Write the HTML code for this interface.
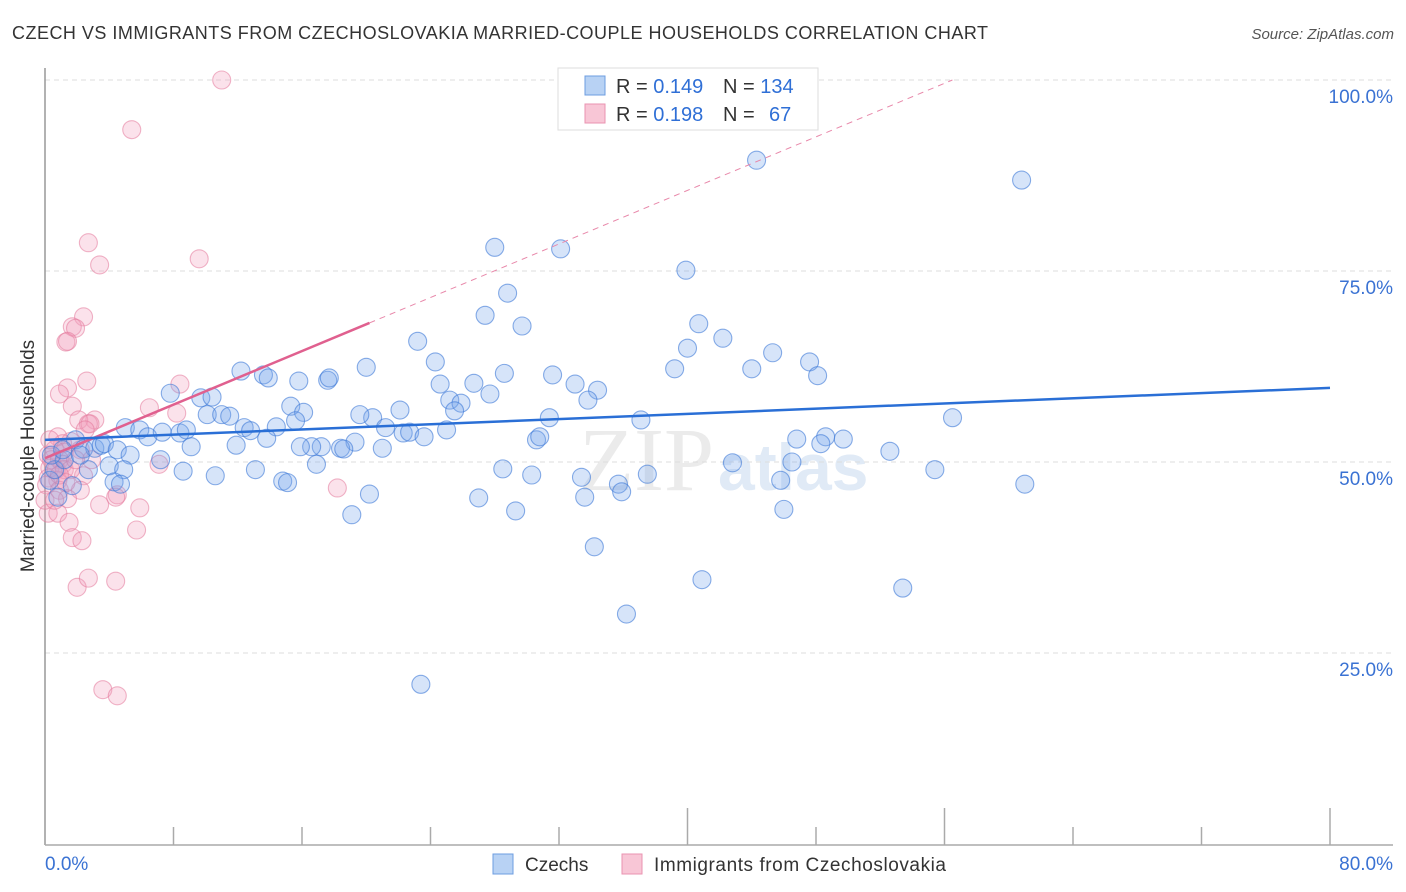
<!DOCTYPE html>
<html><head><meta charset="utf-8"><style>
body{margin:0;background:#fff;font-family:"Liberation Sans",sans-serif}
svg{display:block}
</style></head><body>
<svg id="chart" width="1406" height="892">
<text x="12" y="39" font-size="18" fill="#333" textLength="976" lengthAdjust="spacing">CZECH VS IMMIGRANTS FROM CZECHOSLOVAKIA MARRIED-COUPLE HOUSEHOLDS CORRELATION CHART</text>
<text x="1394" y="39" font-size="15" fill="#555" font-style="italic" text-anchor="end">Source: ZipAtlas.com</text>
<text x="714" y="490" font-size="90" fill="#ebebeb" text-anchor="end" font-family="Liberation Serif, serif">ZIP</text>
<text x="718" y="490" font-size="66" fill="#e0eaf6" font-weight="bold">atlas</text>
<g id="grid"></g><g id="axes"></g><g id="marks"></g>
<text transform="translate(34,456) rotate(-90)" font-size="19" fill="#333" text-anchor="middle">Married-couple Households</text>
<g>
<rect x="558" y="68" width="260" height="62" fill="#fff" stroke="#ddd"/>
<rect x="585" y="76" width="20" height="19" fill="#b8d2f4" stroke="#6d9de0"/>
<rect x="585" y="104" width="20" height="19" fill="#f8c6d6" stroke="#ea93b0"/>
<text x="616" y="93" font-size="20" fill="#333">R = <tspan fill="#2f6fd6">0.149</tspan></text>
<text x="723" y="93" font-size="20" fill="#333">N = <tspan fill="#2f6fd6">134</tspan></text>
<text x="616" y="121" font-size="20" fill="#333">R = <tspan fill="#2f6fd6">0.198</tspan></text>
<text x="723" y="121" font-size="20" fill="#333">N = <tspan x="769" fill="#2f6fd6">67</tspan></text>
</g>
<g>
<rect x="493" y="854" width="20" height="20" fill="#b8d2f4" stroke="#6d9de0"/>
<text x="525" y="871" font-size="19" fill="#333">Czechs</text>
<rect x="622" y="854" width="20" height="20" fill="#f8c6d6" stroke="#ea93b0"/>
<text x="654" y="871" font-size="19" fill="#333" textLength="292" lengthAdjust="spacing">Immigrants from Czechoslovakia</text>
</g>
</svg>
<script>
const blueX=[44.3,60.8,28.0,32.1,39.9,28.8,27.4,29.7,40.7,23.2,42.2,40.0,45.3,20.0,24.3,31.6,28.6,39.2,44.0,47.6,48.1,12.2,13.6,13.9,15.8,17.6,17.7,24.6,26.7,33.0,34.4,27.7,25.2,25.9,33.8,7.8,9.7,10.4,15.3,16.1,22.1,20.4,19.6,25.5,31.4,37.1,56.5,10.1,11.0,11.5,15.6,12.4,12.8,14.4,5.0,5.9,6.4,7.3,8.4,8.8,21.2,22.3,22.7,23.6,25.0,19.3,18.4,18.6,17.2,16.6,13.8,11.9,9.1,15.9,21.0,30.6,30.8,46.8,48.6,49.7,48.3,52.6,1.9,2.4,3.1,3.5,3.7,4.5,5.3,7.2,4.0,4.9,8.6,10.6,13.1,16.9,28.5,30.3,33.4,37.5,42.8,46.5,55.4,61.0,45.8,4.3,4.7,14.8,15.1,20.2,27.0,29.3,33.6,35.7,35.9,19.1,46.0,34.2,40.9,53.4,36.2,23.4,0.3,0.8,0.6,1.2,0.4,2.7,1.7,1.1,2.2];
const blueY=[89.5,86.9,78.1,77.9,75.1,72.1,69.2,67.8,68.1,65.8,66.2,64.9,64.3,62.4,63.1,61.4,61.6,62.2,62.2,63.1,61.3,61.9,61.4,61.0,60.6,60.7,61.0,60.2,60.3,60.2,59.4,58.9,58.1,57.7,58.1,59.0,58.4,58.5,57.3,56.5,56.8,55.8,56.2,56.7,55.8,55.5,55.8,56.2,56.2,56.0,55.4,54.5,54.1,54.6,54.5,54.2,53.3,53.9,53.8,54.2,54.5,53.8,53.9,53.3,54.2,52.6,51.8,51.7,52.0,52.0,53.1,52.2,52.0,52.0,51.8,52.9,53.3,53.0,53.3,53.0,52.4,51.4,52.9,51.7,51.8,52.2,52.4,51.6,50.9,50.3,49.5,49.0,48.8,48.2,49.0,49.7,49.1,48.3,48.0,48.4,49.9,50.0,49.0,47.1,47.6,47.4,47.1,47.5,47.3,45.8,45.3,43.6,45.4,47.1,46.1,43.1,43.8,38.9,34.6,33.5,30.1,20.9,47.6,45.4,49.0,50.3,50.9,49.0,46.9,51.6,50.9];
const pinkX=[11.0,5.4,2.7,3.4,9.6,2.4,1.7,1.9,1.3,1.4,8.4,2.6,1.4,0.9,1.7,6.5,8.2,3.1,2.1,2.7,2.8,0.8,1.6,1.1,0.6,1.2,0.2,0.4,0.9,1.1,0.3,0.7,0.2,0.8,1.2,2.2,2.9,7.1,2.4,0.1,0.9,4.5,4.4,3.4,2.2,1.4,18.2,5.9,0.2,0.8,1.5,1.7,2.3,5.7,2.0,2.7,4.4,3.6,4.5,0.0,0.6,1.6,1.9,2.5,0.3,0.9,1.3];
const pinkY=[100.0,93.5,78.7,75.8,76.6,69.0,67.7,67.5,65.7,65.8,60.2,60.6,59.7,58.9,57.3,57.1,56.4,55.5,55.5,55.0,55.0,53.3,52.7,52.4,51.6,51.3,50.9,50.3,50.3,49.7,49.2,49.0,47.9,47.6,49.0,51.6,50.3,49.7,48.2,47.0,46.3,45.7,45.4,44.4,46.3,45.2,46.6,44.0,43.3,43.3,42.1,40.1,39.7,41.1,33.6,34.8,34.4,20.2,19.4,45.0,45.0,49.0,50.3,54.2,52.9,48.3,47.3];
const blueTrend=[52.9,59.7];   // y at x=0 and x=80
const pinkTrend=[50.5,68.2];   // y at x=0 and x=20.2
const yTicks=[100,75,50,25];
const yTickLabels=["100.0%","75.0%","50.0%","25.0%"];

const NS="http://www.w3.org/2000/svg";
const X0=45,X1=1330,Y0=844,Y100=80;
const sx=v=>X0+v/80*(X1-X0);
const sy=v=>Y0-v/100*(Y0-Y100);
function mk(tag,attrs,parent){const e=document.createElementNS(NS,tag);for(const k in attrs)e.setAttribute(k,attrs[k]);parent.appendChild(e);return e;}
const grid=document.getElementById('grid'),axes=document.getElementById('axes'),marks=document.getElementById('marks');
yTicks.forEach((t,i)=>{
 const l=mk('line',{x1:X0,x2:1393,y1:sy(t),y2:sy(t),stroke:'#ddd','stroke-dasharray':'5,4'},grid);
 
 
 const tx=mk('text',{x:1393,y:sy(t)+23,'font-size':19,fill:'#3a72d3','text-anchor':'end'},axes);
 tx.textContent=yTickLabels[i];
 
 
});
let a=mk('line',{x1:X0,x2:X0,y1:68,y2:Y0+1,stroke:'#999','stroke-width':1.5},axes);


a=mk('line',{x1:X0,x2:1393,y1:Y0+1,y2:Y0+1,stroke:'#aaa','stroke-width':1.5},axes);


for(let i=1;i<=10;i++){
 const x=sx(i*8);const tall=(i==5||i==7||i==10);
 const t=mk('line',{x1:x,x2:x,y1:tall?808:827,y2:Y0+1,stroke:'#aaa','stroke-width':1.5},axes);
 
 
}
let xl=mk('text',{x:45,y:870,'font-size':19,fill:'#3a72d3'},axes);xl.textContent='0.0%';


xl=mk('text',{x:1393,y:870,'font-size':19,fill:'#3a72d3','text-anchor':'end'},axes);xl.textContent='80.0%';



function dots(X,Y,fill,stroke,name){
 X.forEach((v,i)=>{
  const c=mk('circle',{cx:sx(v),cy:sy(Y[i]),r:9,fill:fill,stroke:stroke,'stroke-width':1.1},marks);
  
  
 });
}
dots(pinkX,pinkY,'rgba(242,160,188,0.3)','rgba(228,120,155,0.55)','immigrant-point');
dots(blueX,blueY,'rgba(120,165,235,0.3)','rgba(60,120,215,0.6)','czech-point');
const ps=(pinkTrend[1]-pinkTrend[0])/20.2;
const xEnd=(100-pinkTrend[0])/ps;
let ln=mk('line',{x1:sx(20.2),y1:sy(pinkTrend[1]),x2:sx(xEnd),y2:sy(100),stroke:'#e888aa','stroke-width':1,'stroke-dasharray':'6,5'},marks);


ln=mk('line',{x1:sx(0),y1:sy(pinkTrend[0]),x2:sx(20.2),y2:sy(pinkTrend[1]),stroke:'#e0608f','stroke-width':2.5},marks);


ln=mk('line',{x1:sx(0),y1:sy(blueTrend[0]),x2:sx(80),y2:sy(blueTrend[1]),stroke:'#2a6fd6','stroke-width':2.5},marks);


</script>
</body></html>
